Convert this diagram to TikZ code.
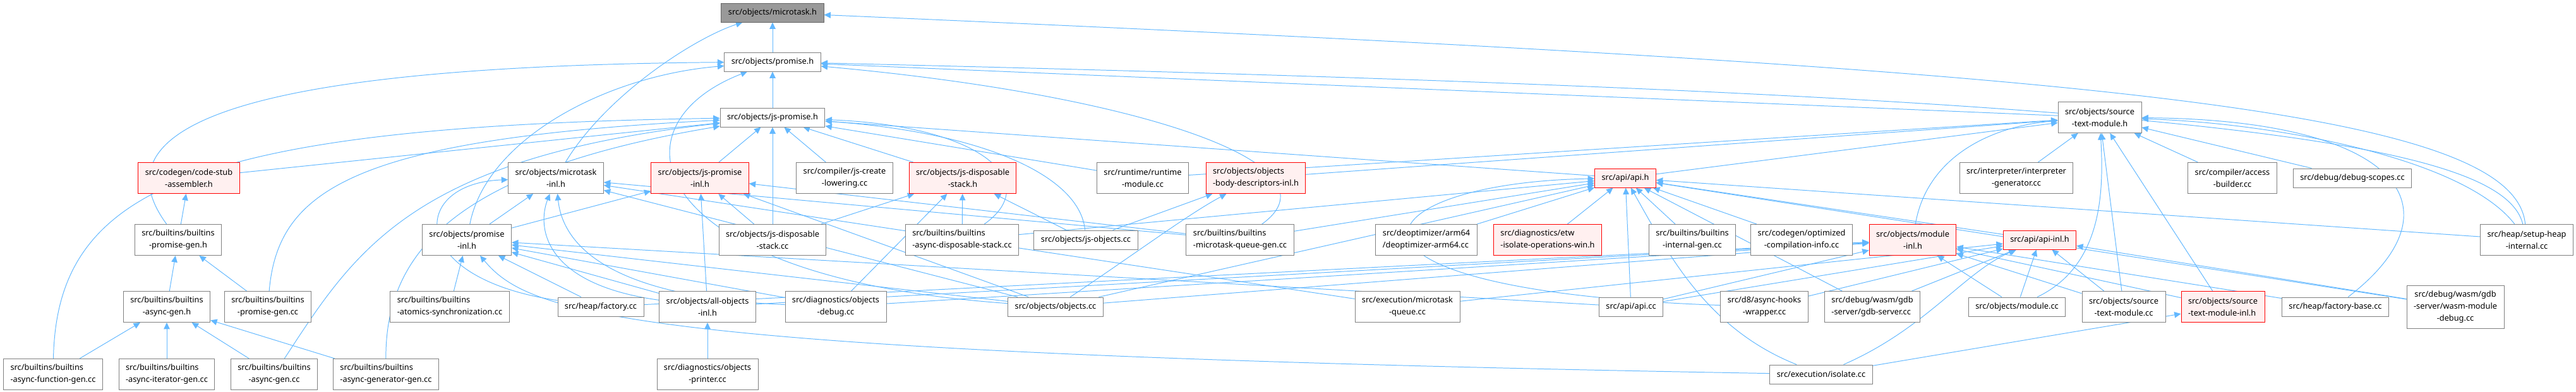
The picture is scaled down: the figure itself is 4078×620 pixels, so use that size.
\documentclass[tikz,border=0pt]{standalone}
\usepackage{fontspec}
\setmainfont{Noto Sans}
\usetikzlibrary{arrows.meta,backgrounds}
\definecolor{edgeblue}{RGB}{99,184,255}
\definecolor{framegray}{RGB}{128,128,128}
\definecolor{rootgray}{RGB}{153,153,153}
\definecolor{hotfill}{RGB}{255,240,240}
\definecolor{hotred}{RGB}{255,0,0}
\tikzset{
  filebox/.style={draw=framegray,fill=white,line width=0.7pt,inner xsep=7.8pt,inner ysep=0pt,
    minimum height=0.75cm,align=center,font=\fontsize{9.1}{13.5}\selectfont},
  twoline/.style={minimum height=1.225cm},
  threeline/.style={minimum height=1.7cm},
  leftlbl/.style={align=left},
  hotbox/.style={filebox,draw=hotred,fill=hotfill},
  rootbox/.style={filebox,draw=black!60,fill=rootgray},
  incl/.style={-{Triangle[length=2.6mm,width=2.4mm]},line width=0.7pt,draw=edgeblue}
}

\begin{document}
\begin{tikzpicture}[x=0.025cm,y=-0.025cm]

  \useasboundingbox (0,0) rectangle (4078,620);

  % top of the graph
  \node[rootbox] (mt) at (1223,20) {src/objects/microtask.h};
  \node[filebox] (pr) at (1223,98) {src/objects/promise.h};
  \node[filebox] (jsp) at (1223,186) {src/objects/js-promise.h};
  \node[filebox,twoline] (stm) at (3324,186) {src/objects/source\\-text-module.h};

  % row 4
  \node[hotbox,twoline] (csa) at (299,282) {src/codegen/code-stub\\-assembler.h};
  \node[filebox,twoline] (mti) at (880,282) {src/objects/microtask\\-inl.h};
  \node[hotbox,twoline] (jspi) at (1108,282) {src/objects/js-promise\\-inl.h};
  \node[filebox,twoline] (jcl) at (1337,282) {src/compiler/js-create\\-lowering.cc};
  \node[hotbox,twoline] (jdsh) at (1524,282) {src/objects/js-disposable\\-stack.h};
  \node[filebox,twoline] (rtm) at (1809,282) {src/runtime/runtime\\-module.cc};
  \node[hotbox,twoline,leftlbl] (obd) at (1988,282) {src/objects/objects\\-body-descriptors-inl.h};
  \node[hotbox] (api) at (2573,282) {src/api/api.h};
  \node[filebox,twoline] (ig) at (3192,282) {src/interpreter/interpreter\\-generator.cc};
  \node[filebox,twoline] (ab) at (3534,282) {src/compiler/access\\-builder.cc};
  \node[filebox] (ds) at (3724,282) {src/debug/debug-scopes.cc};

  % row 5
  \node[filebox,twoline] (pgh) at (282,380) {src/builtins/builtins\\-promise-gen.h};
  \node[filebox,twoline] (pri) at (739,380) {src/objects/promise\\-inl.h};
  \node[filebox,twoline] (jdsc) at (1223,380) {src/objects/js-disposable\\-stack.cc};
  \node[filebox,twoline,leftlbl] (adsc) at (1523,380) {src/builtins/builtins\\-async-disposable-stack.cc};
  \node[filebox] (jso) at (1719,380) {src/objects/js-objects.cc};
  \node[filebox,twoline,leftlbl] (mqg) at (1963,380) {src/builtins/builtins\\-microtask-queue-gen.cc};
  \node[filebox,twoline,leftlbl] (deo) at (2258,380) {src/deoptimizer/arm64\\/deoptimizer-arm64.cc};
  \node[hotbox,twoline,leftlbl] (etw) at (2450,380) {src/diagnostics/etw\\-isolate-operations-win.h};
  \node[filebox,twoline] (big) at (2679,380) {src/builtins/builtins\\-internal-gen.cc};
  \node[filebox,twoline] (oci) at (2852,380) {src/codegen/optimized\\-compilation-info.cc};
  \node[hotbox,twoline] (mdi) at (3028,380) {src/objects/module\\-inl.h};
  \node[hotbox] (apii) at (3229,380) {src/api/api-inl.h};
  \node[filebox,twoline] (shi) at (4000,380) {src/heap/setup-heap\\-internal.cc};

  % row 6
  \node[filebox,twoline] (agh) at (264,486) {src/builtins/builtins\\-async-gen.h};
  \node[filebox,twoline] (pgc) at (424,486) {src/builtins/builtins\\-promise-gen.cc};
  \node[filebox,twoline,leftlbl] (atm) at (712,486) {src/builtins/builtins\\-atomics-synchronization.cc};
  \node[filebox] (fac) at (951,486) {src/heap/factory.cc};
  \node[filebox,twoline] (aoi) at (1120,486) {src/objects/all-objects\\-inl.h};
  \node[filebox,twoline] (odb) at (1323,486) {src/diagnostics/objects\\-debug.cc};
  \node[filebox] (obj) at (1671,486) {src/objects/objects.cc};
  \node[filebox,twoline] (emq) at (2228,486) {src/execution/microtask\\-queue.cc};
  \node[filebox] (apic) at (2582,486) {src/api/api.cc};
  \node[filebox,twoline] (ahw) at (2793,486) {src/d8/async-hooks\\-wrapper.cc};
  \node[filebox,twoline,leftlbl] (gdb) at (2964,486) {src/debug/wasm/gdb\\-server/gdb-server.cc};
  \node[filebox] (mod) at (3193,486) {src/objects/module.cc};
  \node[filebox,twoline] (stmc) at (3362,486) {src/objects/source\\-text-module.cc};
  \node[hotbox,twoline,leftlbl] (stmi) at (3519,486) {src/objects/source\\-text-module-inl.h};
  \node[filebox] (fb) at (3697,486) {src/heap/factory-base.cc};
  \node[filebox,threeline] (wmd) at (3887,486) {src/debug/wasm/gdb\\-server/wasm-module\\-debug.cc};

  % bottom row
  \node[filebox,twoline,leftlbl] (afg) at (84,593) {src/builtins/builtins\\-async-function-gen.cc};
  \node[filebox,twoline,leftlbl] (aig) at (264,593) {src/builtins/builtins\\-async-iterator-gen.cc};
  \node[filebox,twoline] (ag) at (434,593) {src/builtins/builtins\\-async-gen.cc};
  \node[filebox,twoline,leftlbl] (agg) at (611,593) {src/builtins/builtins\\-async-generator-gen.cc};
  \node[filebox,twoline] (opr) at (1120,593) {src/diagnostics/objects\\-printer.cc};
  \node[filebox] (iso) at (2883,593) {src/execution/isolate.cc};

  \begin{scope}[on background layer]
    % straight includes
    \foreach \src/\dst in {pr/mt,jsp/pr,stm/pr,csa/jsp,jspi/jsp,jdsc/jsp,jcl/jsp,jdsh/jsp,rtm/jsp,api/jsp,
      rtm/stm,obd/stm,api/stm,ig/stm,stmc/stm,stmi/stm,ab/stm,ds/stm,
      pgh/csa,agh/pgh,pgc/pgh,afg/agh,aig/agh,ag/agh,agg/agh,
      pri/mti,pri/jspi,atm/pri,fac/pri,fac/mdi,aoi/pri,odb/pri,obj/pri,apic/pri,
      obj/mti,emq/mti,mqg/mti,aoi/jspi,jdsc/jspi,obj/jspi,mqg/jspi,opr/aoi,
      jdsc/jdsh,adsc/jdsh,jso/jdsh,odb/jdsh,jso/obd,
      adsc/api,mqg/api,obj/api,deo/api,etw/api,apic/api,big/api,oci/api,apii/api,wmd/api,gdb/api,shi/api,
      aoi/mdi,odb/mdi,obj/mdi,apic/mdi,mod/mdi,stmc/mdi,fb/mdi,stmi/mdi,
      ahw/apii,emq/apii,apic/apii,gdb/apii,mod/apii,stmc/apii,wmd/apii,iso/stmi}{
      \draw[incl] (\src) -- (\dst);
    }

    % curved includes
    \draw[incl] (mti) .. controls (960,150) and (1100,60) .. (mt);
    \draw[incl] (shi) .. controls (3980,170) and (3300,110) .. (mt);
    \draw[incl] (pgh) .. controls (150,200) and (380,105) .. (pr);
    \draw[incl] (pri) .. controls (770,220) and (960,120) .. (pr);
    \draw[incl] (mqg) .. controls (2130,260) and (1800,150) .. (pr);
    \draw[incl] (shi) .. controls (3960,220) and (3450,150) .. (pr);
    \draw[incl] (obj) .. controls (1020,440) and (960,200) .. (pr);
    \draw[incl] (afg) .. controls (90,300) and (300,200) .. (jsp);
    \draw[incl] (pgc) .. controls (440,300) and (560,220) .. (jsp);
    \draw[incl] (ag) .. controls (560,400) and (650,250) .. (jsp);
    \draw[incl] (agg) .. controls (610,400) and (720,270) .. (jsp);
    \draw[incl] (adsc) .. controls (1650,290) and (1560,200) .. (jsp);
    \draw[incl] (jso) .. controls (1710,280) and (1560,210) .. (jsp);
    \draw[incl] (mdi) .. controls (3050,250) and (3150,200) .. (stm);
    \draw[incl] (mod) .. controls (3330,420) and (3330,300) .. (stm);
    \draw[incl] (shi) .. controls (3900,250) and (3600,195) .. (stm);
    \draw[incl] (fb) .. controls (3900,330) and (3800,190) .. (stm);
    \draw[incl] (fac) .. controls (640,440) and (650,290) .. (mti);
    \draw[incl] (iso) .. controls (1000,560) and (840,500) .. (pri);
    \draw[incl] (aoi) .. controls (860,450) and (850,360) .. (mti);
    \draw[incl] (odb) .. controls (950,470) and (890,380) .. (mti);
    \draw[incl] (obj) .. controls (1800,400) and (1880,340) .. (obd);
    \draw[incl] (ahw) .. controls (2050,460) and (2150,290) .. (api);
    \draw[incl] (iso) .. controls (2700,520) and (2640,400) .. (api);
    \draw[incl] (iso) .. controls (3050,520) and (3110,430) .. (apii);
  \end{scope}

\end{tikzpicture}
\end{document}
